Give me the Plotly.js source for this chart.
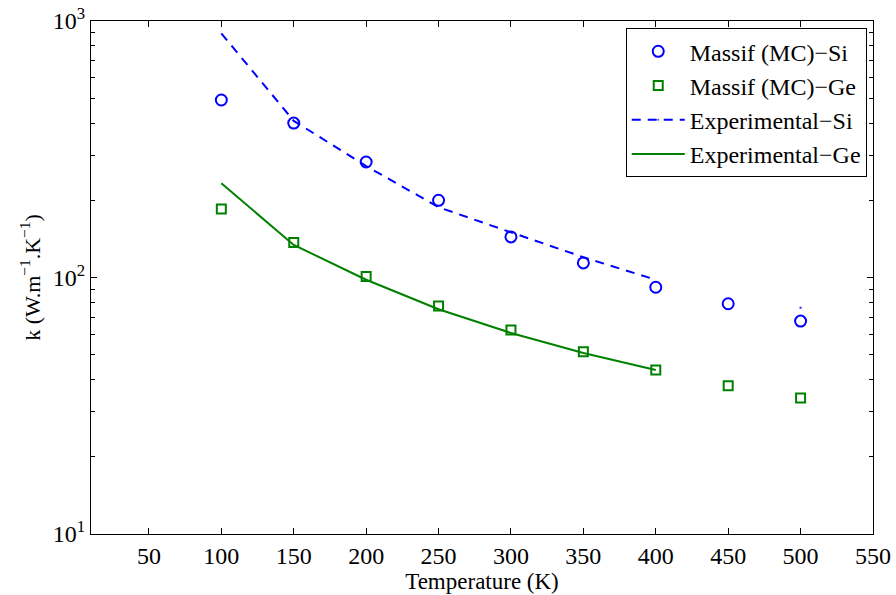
<!DOCTYPE html>
<html>
<head>
<meta charset="utf-8">
<script src="https://cdn.plot.ly/plotly-3.0.1.min.js"></script>
<style>html,body{margin:0;padding:0;background:#fff;}#chart{width:896px;height:595px;}</style>
</head>
<body>
<div id="chart"></div>
<script>
// Data
const temps = [100, 150, 200, 250, 300, 350, 400, 450, 500];
const mcSi = [492, 400, 282, 200, 144, 114, 91.6, 79, 67.6];
const mcGe = [185, 137, 101, 77.4, 62.4, 51.3, 43.6, 37.8, 33.9];
const expSi = [895, 408, 272, 188, 150, 120, 98, null, 76.2];
const expGe = [233, 134, 98, 75.2, 60.8, 50.8, 43.6, null, null];
const xTicks = [50, 100, 150, 200, 250, 300, 350, 400, 450, 500, 550];
const yTicks = [10, 100, 1000];
const yTickText = ['10<sup>1</sup>', '10<sup>2</sup>', '10<sup>3</sup>'];
const yMinor = [20,30,40,50,60,70,80,90,200,300,400,500,600,700,800,900];
const names = ['Massif (MC)\u2212Si', 'Massif (MC)\u2212Ge', 'Experimental\u2212Si', 'Experimental\u2212Ge'];

const FONT = 'Liberation Serif, Times New Roman, serif';
const blue = '#0000FF';
const green = '#008000';

// marker sizes for the isolated experimental point (only the last one visible)
const expSiMarkerSize = expSi.map((v, i) => i === expSi.length - 1 ? 2.5 : 0);

const traces = [
  {x: temps, y: mcSi, name: names[0], mode: 'markers', type: 'scatter',
   marker: {symbol: 'circle-open', size: 11, color: blue, line: {width: 2, color: blue}}},
  {x: temps, y: mcGe, name: names[1], mode: 'markers', type: 'scatter',
   marker: {symbol: 'square-open', size: 9, color: green, line: {width: 2, color: green}}},
  {x: temps, y: expSi, name: names[2], mode: 'lines+markers', type: 'scatter', connectgaps: false,
   line: {color: blue, width: 2, dash: '9px,7px'},
   marker: {size: expSiMarkerSize, color: blue, line: {width: 0}}},
  {x: temps, y: expGe, name: names[3], mode: 'lines', type: 'scatter', connectgaps: false,
   line: {color: green, width: 2}}
];

const layout = {
  width: 896, height: 595,
  margin: {l: 91, r: 23, t: 21, b: 61, pad: 0},
  paper_bgcolor: '#fff', plot_bgcolor: '#fff',
  font: {family: FONT, size: 24, color: '#000'},
  showlegend: true,
  legend: {
    x: 0.992, y: 0.986, xanchor: 'right', yanchor: 'top',
    bgcolor: '#fff', bordercolor: '#000', borderwidth: 1,
    font: {family: FONT, size: 24, color: '#000'},
    itemwidth: 53, tracegroupgap: 0
  },
  xaxis: {
    range: [10, 550], tickmode: 'array', tickvals: xTicks,
    ticks: 'inside', ticklen: 6, tickwidth: 1, tickcolor: '#000',
    showline: true, linecolor: '#000', linewidth: 1, mirror: 'ticks',
    showgrid: false, zeroline: false,
    tickfont: {family: FONT, size: 24},
    title: {text: 'Temperature (K)', font: {family: FONT, size: 23}, standoff: 0}
  },
  yaxis: {
    type: 'log', range: [1, 3], tickmode: 'array', tickvals: yTicks, ticktext: yTickText,
    ticks: 'inside', ticklen: 6, tickwidth: 1, tickcolor: '#000',
    showline: true, linecolor: '#000', linewidth: 1, mirror: 'ticks',
    showgrid: false, zeroline: false,
    minor: {tickmode: 'array', tickvals: yMinor, ticks: 'inside', ticklen: 4, tickcolor: '#000', showgrid: false},
    tickfont: {family: FONT, size: 24},
    title: {text: 'k (W.m<sup>\u22121</sup>.K<sup>\u22121</sup>)', font: {family: FONT, size: 22}, standoff: 6}
  }
};

Plotly.newPlot('chart', traces, layout, {displayModeBar: false, staticPlot: true});
</script>
</body>
</html>
